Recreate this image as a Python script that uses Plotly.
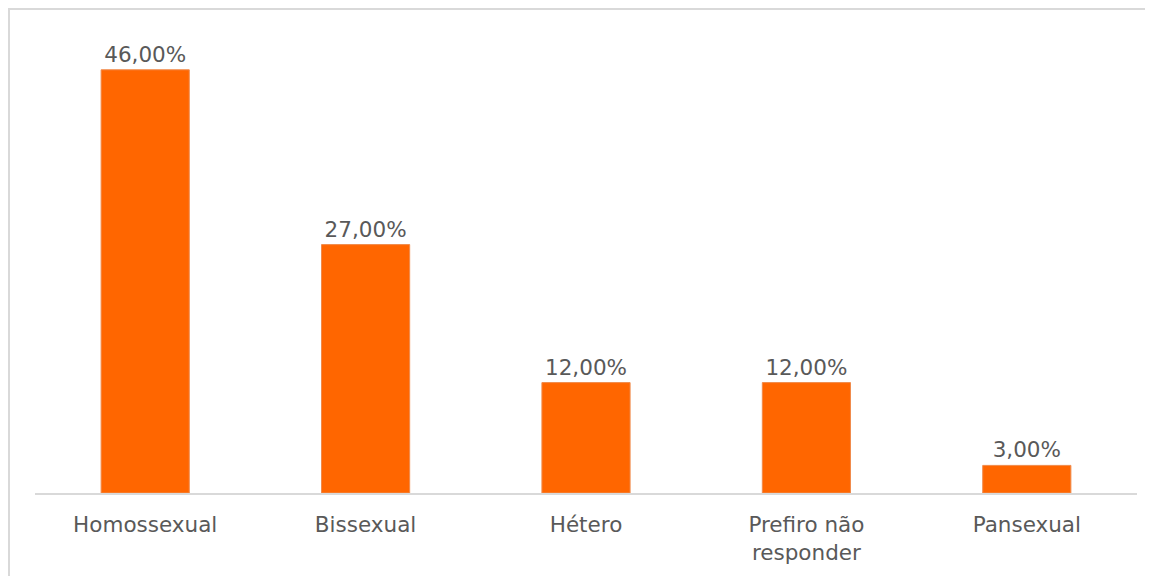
import plotly.graph_objects as go

categories = ["Homossexual", "Bissexual", "Hétero", "Prefiro não<br>responder", "Pansexual"]
values = [46, 27, 12, 12, 3]
labels = [f"{v:.2f}".replace(".", ",") + "%" for v in values]

FONT = "'DejaVu Sans', sans-serif"

fig = go.Figure(go.Bar(
    x=categories, y=values, text=labels, textposition="outside",
    marker=dict(color="#FF6600", line=dict(color="#F08A4B", width=1)),
    textfont=dict(family=FONT, size=21.5, color="#595959"),
    cliponaxis=False, width=0.4,
))

fig.update_layout(
    width=1153, height=576,
    margin=dict(l=27, r=24, t=25, b=91),
    plot_bgcolor="white", paper_bgcolor="white",
    showlegend=False,
    font=dict(family=FONT, size=21.5, color="#595959"),
    xaxis=dict(showline=True, linecolor="#D9D9D9", linewidth=2, ticks="",
               tickfont=dict(family=FONT, size=21.5, color="#595959"), showgrid=False,
               ticklabelstandoff=11),
    yaxis=dict(range=[0, 50], visible=False, showgrid=False),
    bargap=0.6,
)

fig.add_shape(type="line", xref="paper", yref="paper",
              x0=-0.0236, x1=-0.0236, y0=-0.3, y1=1.0543,
              line=dict(color="#D9D9D9", width=2))
fig.add_shape(type="line", xref="paper", yref="paper",
              x0=-0.0236, x1=1.1, y0=1.0522, y1=1.0522,
              line=dict(color="#D9D9D9", width=2))

fig.write_html("out.html")
